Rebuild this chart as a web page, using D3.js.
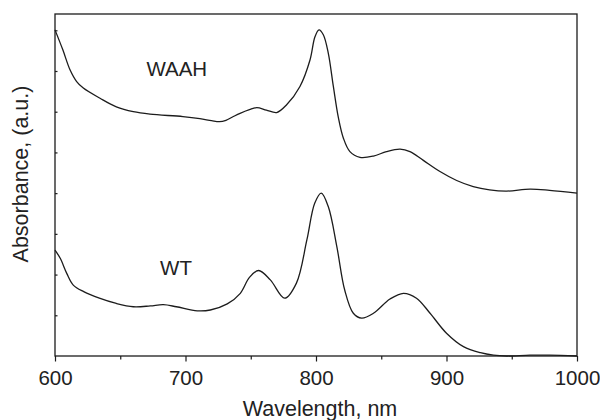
<!DOCTYPE html>
<html>
<head>
<meta charset="utf-8">
<script src="https://cdn.jsdelivr.net/npm/d3@7"></script>
<style>
  html, body { margin: 0; padding: 0; background: #fff; }
  svg { display: block; font-family: "Liberation Sans", Arial, sans-serif; }
</style>
</head>
<body>
<svg id="chart" width="600" height="420"></svg>
<script>
// Absorption spectra (arbitrary units, WAAH offset above WT)
const wavelength = {
  waah: [600, 606, 611.5, 616.6, 621.7, 634.5, 647, 660, 672.8, 698, 711, 720, 726, 731, 736, 741.8, 749, 754.6, 762, 769.9, 777.5, 787.7, 795.4, 799.2, 802.3, 805.6, 809.4, 813.3, 817, 821, 826, 833.7, 844, 854, 864.4, 872, 882, 895, 907.8, 920.5, 933, 946, 964, 979, 1000],
  wt: [600, 604, 609, 614, 622, 634, 647, 660, 673, 683, 693, 709, 719, 732, 742, 749, 756, 765, 776, 785, 793, 799, 804, 809.4, 816, 822, 828.6, 835, 844, 856.7, 867, 877, 887.4, 900, 913, 926, 936, 946, 964, 979, 1000]
};
const absWAAH = [8.01, 7.52, 7.03, 6.74, 6.58, 6.33, 6.12, 6.00, 5.94, 5.88, 5.83, 5.78, 5.755, 5.79, 5.87, 5.96, 6.05, 6.10, 6.04, 5.98, 6.17, 6.62, 7.27, 7.84, 8.01, 7.89, 7.44, 6.62, 5.88, 5.35, 5.02, 4.88, 4.91, 5.02, 5.08, 5.02, 4.81, 4.53, 4.31, 4.16, 4.08, 4.05, 4.10, 4.07, 4.00];
const absWT = [2.60, 2.40, 2.03, 1.74, 1.58, 1.42, 1.29, 1.21, 1.23, 1.26, 1.21, 1.11, 1.13, 1.28, 1.54, 1.93, 2.10, 1.87, 1.42, 1.79, 2.85, 3.75, 4.00, 3.67, 2.68, 1.62, 1.05, 0.93, 1.05, 1.40, 1.54, 1.42, 1.05, 0.56, 0.23, 0.08, 0.02, 0.0, 0.02, 0.02, 0.0];

const xTicks = [600, 700, 800, 900, 1000];
const xMinorTicks = [650, 750, 850, 950];
const yTicks = [1, 2, 3, 4, 5, 6, 7, 8];
const seriesLabels = ["WAAH", "WT"];
const xTitle = "Wavelength, nm";
const yTitle = "Absorbance, (a.u.)";

const svg = d3.select("#chart");
const plotLeft = 55, plotRight = 577, plotTop = 14, plotBottom = 356;
const ink = "#1c1c1c";

const x = d3.scaleLinear().domain([600, 1000]).range([plotLeft, plotRight]);
const y = d3.scaleLinear().domain([0, 8.4]).range([plotBottom, plotTop]);

// Bottom axis: major ticks with labels, minor ticks between
const xAxis = svg.append("g").attr("transform", `translate(0,${plotBottom})`)
  .call(d3.axisBottom(x).tickValues(xTicks).tickFormat(d3.format("d")).tickSize(5.5).tickPadding(9));
const xMinor = svg.append("g").attr("transform", `translate(0,${plotBottom})`)
  .call(d3.axisBottom(x).tickValues(xMinorTicks).tickFormat("").tickSize(3.5));
[xAxis, xMinor].forEach(g => {
  g.select(".domain").remove();
  g.selectAll("line").attr("stroke", ink).attr("stroke-width", 1.2);
});
xAxis.selectAll("text").attr("fill", "#222").style("font-size", "20.5px")
  .attr("font-family", "Liberation Sans, Arial, sans-serif");

// Left axis: unlabelled inward ticks
const yAxis = svg.append("g").attr("transform", `translate(${plotLeft},0)`)
  .call(d3.axisRight(y).tickValues(yTicks).tickFormat("").tickSize(2.5));
yAxis.select(".domain").remove();
yAxis.selectAll("line").attr("stroke", ink).attr("stroke-width", 1.2);

// Frame
svg.append("rect")
  .attr("x", plotLeft).attr("y", plotTop)
  .attr("width", plotRight - plotLeft).attr("height", plotBottom - plotTop)
  .attr("fill", "none").attr("stroke", ink).attr("stroke-width", 1.3);

// Spectra
const line = d3.line().x(d => x(d[0])).y(d => y(d[1])).curve(d3.curveCatmullRom.alpha(0.5));
const series = [
  wavelength.waah.map((w, i) => [w, absWAAH[i]]),
  wavelength.wt.map((w, i) => [w, absWT[i]])
];
svg.append("g").selectAll("path").data(series).join("path")
  .attr("d", line)
  .attr("fill", "none").attr("stroke", ink).attr("stroke-width", 1.3)
  .attr("stroke-linejoin", "round");

// Series labels
const labelPos = [[693.3, 6.88], [692.7, 1.99]];
svg.append("g").selectAll("text").data(seriesLabels).join("text")
  .attr("x", (d, i) => x(labelPos[i][0]))
  .attr("y", (d, i) => y(labelPos[i][1]))
  .attr("text-anchor", "middle")
  .attr("fill", "#222").style("font-size", "20.5px")
  .text(d => d);

// Axis titles
svg.append("text")
  .attr("x", 320).attr("y", 416)
  .attr("text-anchor", "middle").attr("fill", "#222").style("font-size", "21.5px")
  .text(xTitle);
svg.append("text")
  .attr("transform", `translate(28,${(plotTop + plotBottom) / 2 - 11}) rotate(-90)`)
  .attr("text-anchor", "middle").attr("fill", "#222").style("font-size", "21.5px")
  .text(yTitle);
</script>
</body>
</html>
